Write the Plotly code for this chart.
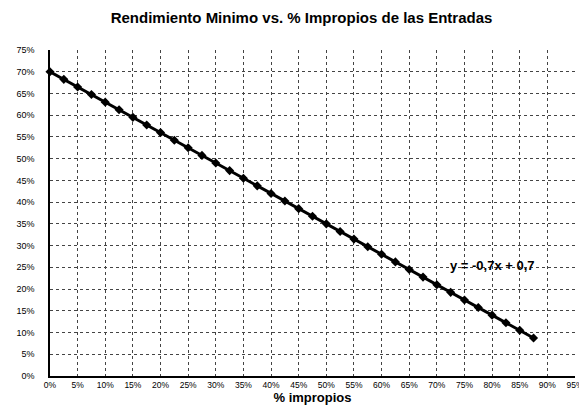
import plotly.graph_objects as go

x_impropios = [0.000, 0.025, 0.050, 0.075, 0.100, 0.125, 0.150, 0.175, 0.200, 0.225,
               0.250, 0.275, 0.300, 0.325, 0.350, 0.375, 0.400, 0.425, 0.450, 0.475,
               0.500, 0.525, 0.550, 0.575, 0.600, 0.625, 0.650, 0.675, 0.700, 0.725,
               0.750, 0.775, 0.800, 0.825, 0.850, 0.875]
y_rendimiento = [0.7000, 0.6825, 0.6650, 0.6475, 0.6300, 0.6125, 0.5950, 0.5775, 0.5600, 0.5425,
                 0.5250, 0.5075, 0.4900, 0.4725, 0.4550, 0.4375, 0.4200, 0.4025, 0.3850, 0.3675,
                 0.3500, 0.3325, 0.3150, 0.2975, 0.2800, 0.2625, 0.2450, 0.2275, 0.2100, 0.1925,
                 0.1750, 0.1575, 0.1400, 0.1225, 0.1050, 0.0875]
equation_label = "y = -0,7x + 0,7"

fig = go.Figure()
fig.add_trace(go.Scatter(
    x=x_impropios, y=y_rendimiento, mode="lines+markers",
    line=dict(color="black", width=3),
    marker=dict(symbol="diamond", size=7, color="black"),
    showlegend=False, cliponaxis=False,
))
fig.add_annotation(x=0.80, y=0.255, text="<b>" + equation_label + "</b>",
                   showarrow=False, font=dict(size=13, color="black"))

fig.update_layout(
    width=587, height=407,
    margin=dict(l=42, r=20, t=42, b=39),
    paper_bgcolor="white", plot_bgcolor="white",
    font=dict(family="Liberation Sans, Arial, sans-serif", size=9, color="black"),
    title=dict(text="<b>Rendimiento Minimo vs. % Impropios de las Entradas</b>",
               x=0.5, xanchor="center", y=0.975, yanchor="middle",
               font=dict(size=15, color="black")),
)
fig.update_xaxes(
    range=[0, 0.95], dtick=0.05, tick0=0, tickformat=".0%",
    tickfont=dict(size=8.5),
    showgrid=True, gridcolor="#444444", griddash="dot", gridwidth=1,
    showline=True, linecolor="black", linewidth=1.5,
    zeroline=False, ticks="", automargin=False,
    title=dict(text="<b>% impropios</b>", font=dict(size=13), standoff=2),
)
fig.update_yaxes(
    range=[0, 0.75], dtick=0.05, tick0=0, tickformat=".0%",
    showgrid=True, gridcolor="#444444", griddash="dot", gridwidth=1,
    showline=True, linecolor="black", linewidth=1.5,
    zeroline=False, ticks="", automargin=False, ticklabelstandoff=12,
)
fig.write_html("out.html")
